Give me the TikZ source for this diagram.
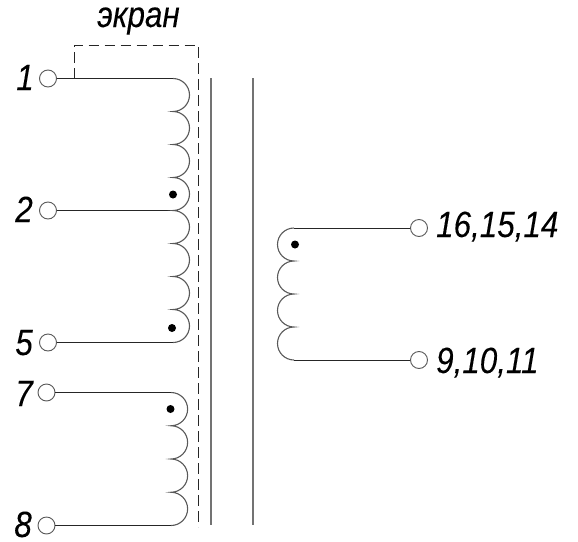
\documentclass[tikz,border=0pt]{standalone}
\usepackage{fontspec}
\setmainfont{Liberation Sans}
\newfontfamily\lblfont[FakeStretch=0.86,FakeBold=0.1]{Liberation Sans}
\tikzset{
  term/.style={circle,draw=black!65,fill=white,line width=0.9pt,minimum size=17pt,inner sep=0pt},
  wire/.style={draw=black!85,line width=1pt},
  coil/.style={draw=black!65,line width=1.1pt},
  corel/.style={draw=black!55,line width=1.5pt},
  screen/.style={draw=black!85,line width=1pt,dash pattern=on 10.5pt off 5.5pt},
  dotm/.style={circle,fill=black,inner sep=0pt,minimum size=8pt},
  lbl/.style={font=\lblfont\itshape\fontsize{36.5}{36.5}\selectfont,inner sep=0pt,text=black}
}
\begin{document}
\begin{tikzpicture}[x=1pt,y=-1pt]
\useasboundingbox (0,0) rectangle (578,541);
% terminals
\node[term] (t1) at (48,78.5) {};
\node[term] (t2) at (48,210.5) {};
\node[term] (t5) at (48,342.5) {};
\node[term] (t7) at (46.5,392.5) {};
\node[term] (t8) at (46.5,525.5) {};
\node[term] (t16) at (419,228) {};
\node[term] (t9) at (419,360) {};
% coil ends
\coordinate (c1) at (173,78.5);
\coordinate (c2) at (173,210.5);
\coordinate (c5) at (173,342.5);
\coordinate (c7) at (171,392.5);
\coordinate (c8) at (171,525.5);
\coordinate (c16) at (294,228);
\coordinate (c9) at (294,360);
\coordinate (sj) at (74,78.5);
\coordinate (s1) at (74,45);
\coordinate (s2) at (198.5,45);
\coordinate (s3) at (198.5,527);
% wires
\draw[wire] (t1) -- (c1);
\draw[wire] (t2) -- (c2);
\draw[wire] (t5) -- (c5);
\draw[wire] (t7) -- (c7);
\draw[wire] (t8) -- (c8);
\draw[wire] (t16) -- (c16);
\draw[wire] (t9) -- (c9);
% coils
\draw[coil] (c1) foreach \i in {1,...,8} {arc[start angle=-90,end angle=90,radius=16.5]};
\draw[coil] (c7) foreach \i in {1,...,4} {arc[start angle=-90,end angle=90,radius=16.625]};
\draw[coil] (c16) foreach \i in {1,...,4} {arc[start angle=270,end angle=90,radius=16.5]};
% screen
\draw[screen] (sj) -- (s1) -- (s2) -- (s3);
% core
\coordinate (k1a) at (211,78);
\coordinate (k1b) at (211,525);
\coordinate (k2a) at (253,78);
\coordinate (k2b) at (253,525);
\draw[corel] (k1a) -- (k1b);
\draw[corel] (k2a) -- (k2b);
% dots
\node[dotm] (d1) at (173,194.5) {};
\node[dotm] (d2) at (172,328) {};
\node[dotm] (d3) at (170.5,409) {};
\node[dotm] (d4) at (295,244.5) {};
% labels
\node[lbl,anchor=base] (lscreen) at (138.5,27) {экран};
\node[lbl,anchor=base east] (l1) at (34,90) {1};
\node[lbl,anchor=base east] (l2) at (33,222) {2};
\node[lbl,anchor=base east] (l5) at (33,355) {5};
\node[lbl,anchor=base east] (l7) at (33,406) {7};
\node[lbl,anchor=base east] (l8) at (32,537) {8};
\node[lbl,anchor=base west] (l16) at (436,237) {16,15,14};
\node[lbl,anchor=base west] (l9) at (436,373) {9,10,11};
\end{tikzpicture}
\end{document}
